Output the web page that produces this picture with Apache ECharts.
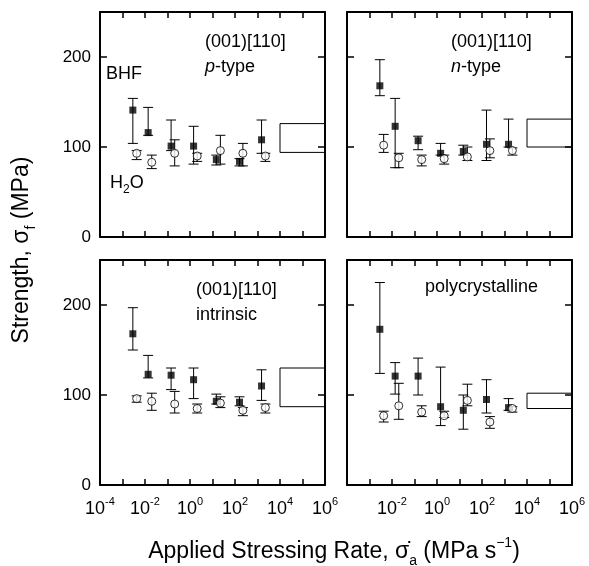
<!DOCTYPE html>
<html>
<head>
<meta charset="utf-8">
<script src="https://cdn.jsdelivr.net/npm/echarts@6/dist/echarts.min.js"></script>
<style>html,body{margin:0;padding:0;background:#fff}</style>
</head>
<body>
<div id="container" style="width:589px;height:566px"></div>
<script>
// x positions are log10 of stressing rate (MPa/s); BHF squares sit a little left of the H2O circles
const bhfRate = [-2.54, -1.86, -0.84, 0.16, 1.17, 2.2, 3.18]
const waterRate = [-2.37, -1.7, -0.68, 0.32, 1.35, 2.35, 3.35]

// (001)[110] p-type
const pBhf = [141, 116, 101, 101, 86, 84, 108]
const pBhfLo = [104, 113, 96, 81, 80, 79, 93]
const pBhfHi = [154, 144, 130, 123, 91, 87, 130]
const pWater = [93, 83, 93, 90, 96, 93, 90]
const pWaterLo = [86, 76, 79, 84, 81, 79, 84]
const pWaterHi = [96, 91, 108, 93, 113, 104, 93]
const pInert = [94, 126]

// (001)[110] n-type
const nBhf = [168, 123, 107, 93, 95, 103, 103]
const nBhfLo = [157, 77, 97, 91, 91, 85, 100]
const nBhfHi = [197, 154, 112, 104, 102, 141, 131]
const nWater = [102, 88, 86, 87, 89, 96, 96]
const nWaterLo = [94, 77, 79, 81, 85, 88, 91]
const nWaterHi = [114, 93, 91, 91, 100, 109, 99]
const nInert = [100, 131]

// (001)[110] intrinsic
const iBhf = [168, 123, 122, 117, 93, 92, 110]
const iBhfLo = [150, 119, 106, 96, 90, 88, 94]
const iBhfHi = [197, 144, 130, 130, 101, 98, 128]
const iWater = [96, 93, 90, 85, 91, 83, 86]
const iWaterLo = [92, 83, 80, 80, 86, 77, 80]
const iWaterHi = [99, 102, 104, 90, 98, 86, 90]
const iInert = [87, 130]

// polycrystalline
const cBhf = [173, 121, 121, 87, 83, 95, 86]
const cBhfLo = [124, 101, 100, 66, 62, 80, 83]
const cBhfHi = [225, 136, 141, 131, 100, 117, 96]
const cWater = [77, 88, 81, 77, 94, 70, 85]
const cWaterLo = [70, 73, 76, 75, 88, 63, 81]
const cWaterHi = [82, 113, 88, 82, 112, 76, 87]
const cInert = [85, 102]

const xTicks = [-4, -2, 0, 2, 4, 6]
const yTicks = [0, 100, 200]

const panels = [
  { left: 100, top: 12, bhf: [pBhf, pBhfLo, pBhfHi], water: [pWater, pWaterLo, pWaterHi], inert: pInert },
  { left: 347, top: 12, bhf: [nBhf, nBhfLo, nBhfHi], water: [nWater, nWaterLo, nWaterHi], inert: nInert },
  { left: 100, top: 260, bhf: [iBhf, iBhfLo, iBhfHi], water: [iWater, iWaterLo, iWaterHi], inert: iInert },
  { left: 347, top: 260, bhf: [cBhf, cBhfLo, cBhfHi], water: [cWater, cWaterLo, cWaterHi], inert: cInert }
]

const font = "'Liberation Sans', Arial, Helvetica, sans-serif"
const black = '#000'

// vertical error bar with caps
function renderBar(params, api) {
  const x = api.value(0)
  const hi = api.coord([x, api.value(2)])
  const lo = api.coord([x, api.value(1)])
  const w = 5
  const st = { stroke: black, lineWidth: 1 }
  return {
    type: 'group',
    children: [
      { type: 'line', shape: { x1: hi[0], y1: hi[1], x2: lo[0], y2: lo[1] }, style: st },
      { type: 'line', shape: { x1: hi[0] - w, y1: hi[1], x2: hi[0] + w, y2: hi[1] }, style: st },
      { type: 'line', shape: { x1: lo[0] - w, y1: lo[1], x2: lo[0] + w, y2: lo[1] }, style: st }
    ]
  }
}

function tenPow(v) {
  return '{b|10}{s|' + v + '}'
}

const grids = []
const xAxes = []
const yAxes = []
const series = []

panels.forEach((p, i) => {
  const bottomRow = i >= 2
  const leftCol = i % 2 === 0
  grids.push({ left: p.left, top: p.top, width: 225, height: 225 })

  const xBase = {
    type: 'value',
    gridIndex: i,
    min: -4,
    max: 6,
    interval: 1,
    splitLine: { show: false },
    axisLine: { onZero: false, lineStyle: { color: black, width: 2 } },
    axisTick: { inside: true, length: 6, lineStyle: { color: black, width: 1.5 } }
  }
  xAxes.push(Object.assign({}, xBase, {
    position: 'bottom',
    axisLabel: {
      show: bottomRow,
      margin: 11,
      color: black,
      fontFamily: font,
      formatter: (v) => {
        if (!xTicks.includes(v)) return ''
        if (!leftCol && v === -4) return ''
        return tenPow(v)
      },
      rich: {
        b: { fontSize: 18, lineHeight: 26, fontFamily: font, color: black },
        s: { fontSize: 11, lineHeight: 12, verticalAlign: 'top', fontFamily: font, color: black }
      }
    }
  }))
  xAxes.push(Object.assign({}, xBase, { position: 'top', axisLabel: { show: false } }))

  const yBase = {
    type: 'value',
    gridIndex: i,
    min: 0,
    max: 250,
    interval: 100,
    splitLine: { show: false },
    axisLine: { onZero: false, lineStyle: { color: black, width: 2 } },
    axisTick: { inside: true, length: 7, lineStyle: { color: black, width: 1.5 } }
  }
  yAxes.push(Object.assign({}, yBase, {
    position: 'left',
    axisLabel: {
      show: leftCol,
      margin: 9,
      color: black,
      fontSize: 17,
      fontFamily: font,
      formatter: (v) => (yTicks.includes(v) ? String(v) : '')
    }
  }))
  yAxes.push(Object.assign({}, yBase, { position: 'right', axisLabel: { show: false } }))

  const xi = 2 * i
  const yi = 2 * i
  const bhfData = bhfRate.map((x, k) => [x, p.bhf[1][k], p.bhf[2][k]])
  const waterData = waterRate.map((x, k) => [x, p.water[1][k], p.water[2][k]])

  series.push({
    type: 'custom',
    xAxisIndex: xi,
    yAxisIndex: yi,
    renderItem: renderBar,
    data: bhfData.concat(waterData),
    clip: false,
    silent: true,
    z: 1
  })
  series.push({
    type: 'scatter',
    xAxisIndex: xi,
    yAxisIndex: yi,
    symbol: 'rect',
    symbolSize: 7,
    itemStyle: { color: black },
    data: bhfRate.map((x, k) => [x, p.bhf[0][k]]),
    silent: true,
    z: 3,
    markArea: {
      silent: true,
      itemStyle: { color: 'rgba(0,0,0,0)', borderColor: black, borderWidth: 1 },
      data: [[{ xAxis: 4, yAxis: p.inert[0] }, { xAxis: 6, yAxis: p.inert[1] }]]
    }
  })
  series.push({
    type: 'scatter',
    xAxisIndex: xi,
    yAxisIndex: yi,
    symbol: 'circle',
    symbolSize: 8,
    itemStyle: { color: '#fff', borderColor: black, borderWidth: 1 },
    data: waterRate.map((x, k) => [x, p.water[0][k]]),
    silent: true,
    z: 4
  })
})

const txt = { fontFamily: font, fontSize: 18, fill: black }
const subRich = {
  n: { fontFamily: font, fontSize: 18, lineHeight: 26, color: black },
  i: { fontFamily: font, fontSize: 18, lineHeight: 26, fontStyle: 'italic', color: black },
  sub: { fontFamily: font, fontSize: 12, lineHeight: 12, verticalAlign: 'bottom', color: black }
}

function label(x, y, text) {
  return {
    type: 'text', left: x, top: y,
    style: Object.assign({}, txt, { text: text, rich: subRich })
  }
}

const graphics = [
  label(205, 33, '{n|(001)[110]}'),
  label(205, 58, '{i|p}{n|-type}'),
  label(106, 65, '{n|BHF}'),
  label(110, 174, '{n|H}{sub|2}{n|O}'),
  label(451, 33, '{n|(001)[110]}'),
  label(451, 58, '{i|n}{n|-type}'),
  label(196, 281, '{n|(001)[110]}'),
  label(196, 306, '{n|intrinsic}'),
  label(425, 278, '{n|polycrystalline}'),
  {
    type: 'text',
    x: 22, y: 250,
    rotation: Math.PI / 2,
    style: {
      text: '{t|Strength, σ}{sub|f}{t| (MPa)}',
      align: 'center',
      verticalAlign: 'middle',
      rich: {
        t: { fontFamily: font, fontSize: 23, lineHeight: 32, color: black },
        sub: { fontFamily: font, fontSize: 14, lineHeight: 14, verticalAlign: 'bottom', color: black }
      }
    }
  },
  {
    type: 'text',
    x: 334, y: 552,
    style: {
      text: '{t|Applied Stressing Rate, σ̇}{sub|a}{t| (MPa s}{sup|−1}{t|)}',
      align: 'center',
      verticalAlign: 'middle',
      rich: {
        t: { fontFamily: font, fontSize: 23, lineHeight: 32, color: black },
        sub: { fontFamily: font, fontSize: 14, lineHeight: 14, verticalAlign: 'bottom', color: black },
        sup: { fontFamily: font, fontSize: 14, lineHeight: 14, verticalAlign: 'top', color: black }
      }
    }
  }
]

const myChart = echarts.init(document.getElementById('container'), null, { renderer: 'canvas' })
myChart.setOption({
  animation: false,
  backgroundColor: '#fff',
  grid: grids,
  xAxis: xAxes,
  yAxis: yAxes,
  series: series,
  graphic: graphics
})
</script>
</body>
</html>
